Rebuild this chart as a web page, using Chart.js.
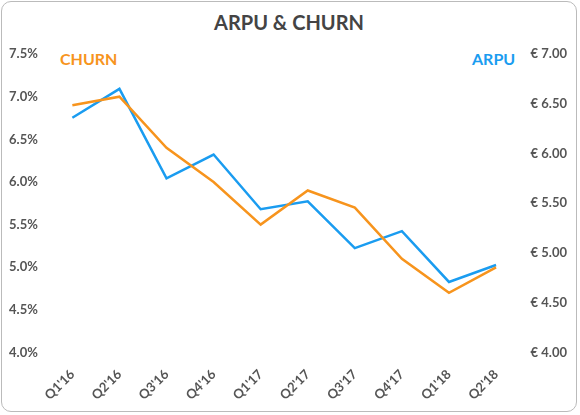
<!DOCTYPE html>
<html><head><meta charset="utf-8">
<script src="https://cdn.jsdelivr.net/npm/chart.js@4"></script>
<style>
body{margin:0;background:#fff;font-family:Lato,sans-serif}
#wrap{position:absolute;left:1px;top:1px;width:576px;height:411px;border:1px solid #bbb;border-radius:10px;box-sizing:border-box}
#title{position:absolute;top:8px;width:100%;text-align:center;font-weight:bold;font-size:20px;color:#444}
.lg{position:absolute;top:47px;font-weight:bold;font-size:16px}
</style></head><body>
<div id="wrap">
<div id="title">ARPU &amp; CHURN</div>
<div class="lg" style="left:58px;color:#F7941D">CHURN</div>
<div class="lg" style="left:470px;color:#1A9CF0">ARPU</div>
<canvas id="c" style="position:absolute;left:0;top:0"></canvas>
</div>
<script>
const categories=["Q1'16","Q2'16","Q3'16","Q4'16","Q1'17","Q2'17","Q3'17","Q4'17","Q1'18","Q2'18"];
const churn=[6.9,7.0,6.4,6.0,5.5,5.9,5.7,5.1,4.7,5.0];
const arpu=[6.36,6.65,5.75,5.99,5.44,5.52,5.05,5.22,4.71,4.88];
const cv=document.getElementById('c');cv.width=576;cv.height=409;
new Chart(cv,{type:'line',data:{labels:categories,datasets:[
{data:churn,borderColor:'#F7941D',borderWidth:2.5,pointRadius:0,tension:0,yAxisID:'y'},
{data:arpu,borderColor:'#1A9CF0',borderWidth:2.5,pointRadius:0,tension:0,yAxisID:'y1'}]},
options:{responsive:false,animation:false,layout:{padding:{top:52,left:4,right:8,bottom:2}},
plugins:{legend:{display:false},tooltip:{enabled:false}},
scales:{
x:{offset:true,grid:{display:false},border:{display:false},ticks:{color:'#555',padding:6,font:{family:'Lato',size:13,weight:'bold'},maxRotation:45,minRotation:45}},
y:{position:'left',min:4,max:7.5,grid:{display:false},border:{display:false},ticks:{stepSize:0.5,color:'#555',font:{family:'Lato',size:13,weight:'bold'},callback:v=>v.toFixed(1)+'%'}},
y1:{position:'right',min:4,max:7,grid:{display:false},border:{display:false},ticks:{stepSize:0.5,color:'#555',font:{family:'Lato',size:13,weight:'bold'},callback:v=>'€ '+v.toFixed(2)}}
}}});
</script></body></html>
